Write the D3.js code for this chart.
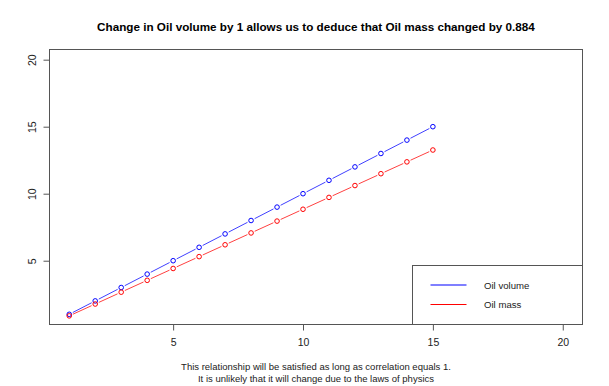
<!DOCTYPE html>
<html>
<head>
<meta charset="utf-8">
<script src="https://cdn.jsdelivr.net/npm/d3@7"></script>
<style>
  body { margin: 0; background: #fff; }
  text { font-family: "Liberation Sans", Arial, sans-serif; fill: #222; }
</style>
</head>
<body>
<div id="chart"></div>
<script>
const xValues = [1, 2, 3, 4, 5, 6, 7, 8, 9, 10, 11, 12, 13, 14, 15];
const oilVolume = [1, 2, 3, 4, 5, 6, 7, 8, 9, 10, 11, 12, 13, 14, 15];
const oilMass = [0.884, 1.768, 2.652, 3.536, 4.42, 5.304, 6.188, 7.072, 7.956, 8.84, 9.724, 10.608, 11.492, 12.376, 13.26];
const tickValues = [5, 10, 15, 20];
const seriesNames = ["Oil volume", "Oil mass"];
const seriesColors = ["#0000ff", "#ff0000"];

const W = 609, H = 386;
const margin = { top: 49.5, right: 26.5, bottom: 61.5, left: 49.5 };

const svg = d3.select("#chart").append("svg")
  .attr("width", W)
  .attr("height", H);

// R style 4% axis extension around [1, 20]
const lo = 1 - 0.04 * 19, hi = 20 + 0.04 * 19;
const x = d3.scaleLinear().domain([lo, hi]).range([margin.left, W - margin.right]);
const y = d3.scaleLinear().domain([lo, hi]).range([H - margin.bottom, margin.top]);

// title
svg.append("text")
  .attr("x", (margin.left + W - margin.right) / 2)
  .attr("y", 31)
  .attr("text-anchor", "middle")
  .style("font-weight", "bold")
  .style("font-size", "11.7px")
  .style("fill", "#000")
  .text("Change in Oil volume by 1 allows us to deduce that Oil mass changed by 0.884");

// axes
const xAxis = svg.append("g")
  .attr("transform", "translate(0," + (H - margin.bottom) + ")")
  .call(d3.axisBottom(x).tickValues(tickValues).tickSize(6).tickPadding(6));
const yAxis = svg.append("g")
  .attr("transform", "translate(" + margin.left + ",0)")
  .call(d3.axisLeft(y).tickValues(tickValues).tickSize(6).tickPadding(6));

[xAxis, yAxis].forEach(g => {
  g.select(".domain").remove();
  g.selectAll(".tick line").attr("stroke", "#555");
  g.selectAll(".tick text").style("font-size", "10.5px").attr("fill", "#222")
    .style("font-family", "Liberation Sans, Arial, sans-serif");
});
xAxis.selectAll(".tick text").attr("dy", "0.9em");
yAxis.selectAll(".tick text")
  .attr("text-anchor", "middle")
  .attr("x", 0)
  .attr("dy", "0em")
  .attr("transform", "translate(-14,0) rotate(-90)");

// plot box
svg.append("rect")
  .attr("x", margin.left)
  .attr("y", margin.top)
  .attr("width", W - margin.left - margin.right)
  .attr("height", H - margin.top - margin.bottom)
  .attr("fill", "none")
  .attr("stroke", "#555");

// series (type = "b": points with gapped segments)
const gap = 4;
[oilVolume, oilMass].forEach((vals, si) => {
  const pts = xValues.map((d, i) => [x(d), y(vals[i])]);
  const g = svg.append("g");
  for (let i = 0; i < pts.length - 1; i++) {
    const [x1, y1] = pts[i], [x2, y2] = pts[i + 1];
    const len = Math.hypot(x2 - x1, y2 - y1);
    const ux = (x2 - x1) / len, uy = (y2 - y1) / len;
    g.append("line")
      .attr("x1", x1 + ux * gap).attr("y1", y1 + uy * gap)
      .attr("x2", x2 - ux * gap).attr("y2", y2 - uy * gap)
      .attr("stroke", seriesColors[si])
      .attr("stroke-opacity", 0.75)
      .attr("stroke-width", 1);
  }
  g.selectAll("circle")
    .data(pts)
    .enter().append("circle")
    .attr("cx", d => d[0])
    .attr("cy", d => d[1])
    .attr("r", 2.3)
    .attr("fill", "none")
    .attr("stroke", seriesColors[si])
    .attr("stroke-width", 1);
});

// legend
const lg = svg.append("g");
lg.append("rect")
  .attr("x", 412.5)
  .attr("y", 265.5)
  .attr("width", W - margin.right - 412.5)
  .attr("height", H - margin.bottom - 265.5)
  .attr("fill", "#fff")
  .attr("stroke", "#555");
seriesNames.forEach((name, i) => {
  const ly = 285 + i * 19.5;
  lg.append("line")
    .attr("x1", 430.5).attr("x2", 466.5)
    .attr("y1", ly).attr("y2", ly)
    .attr("stroke", seriesColors[i])
    .attr("stroke-width", 1.2);
  lg.append("text")
    .attr("x", 484)
    .attr("y", ly + 3.5)
    .style("font-size", "9.6px")
    .text(name);
});

// footnote
const notes = ["This relationship will be satisfied as long as correlation equals 1.",
  "It is unlikely that it will change due to the laws of physics"];
notes.forEach((t, i) => {
  svg.append("text")
    .attr("x", 316)
    .attr("y", 369.5 + i * 12)
    .attr("text-anchor", "middle")
    .style("font-size", "9.5px")
    .text(t);
});
</script>
</body>
</html>
